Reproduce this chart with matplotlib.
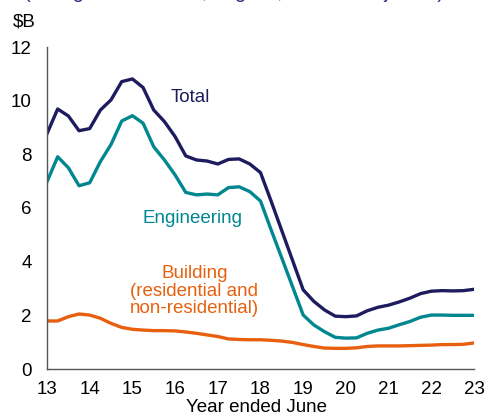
import matplotlib
matplotlib.use("Agg")
import matplotlib.pyplot as plt
import numpy as np

plt.rcParams['font.family'] = ['Liberation Sans', 'DejaVu Sans']

years = np.arange(41) * 0.25 + 13  # quarterly, year ended June 2013..2023

total = [8.77, 9.69, 9.43, 8.88, 8.96, 9.65, 10.03, 10.71, 10.81, 10.49,
         9.65, 9.22, 8.66, 7.94, 7.79, 7.75, 7.64, 7.81, 7.83, 7.64,
         7.32, 6.25, 5.15, 4.05, 2.95, 2.52, 2.2, 1.97, 1.95, 1.98,
         2.17, 2.3, 2.38, 2.5, 2.64, 2.81, 2.9, 2.92, 2.91, 2.92, 2.97]
engineering = [6.98, 7.91, 7.5, 6.83, 6.94, 7.73, 8.37, 9.24, 9.44, 9.16,
               8.28, 7.79, 7.23, 6.58, 6.49, 6.52, 6.49, 6.76, 6.79, 6.61,
               6.26, 5.18, 4.13, 3.07, 2.01, 1.64, 1.39, 1.18, 1.15, 1.16,
               1.33, 1.45, 1.52, 1.65, 1.77, 1.93, 2.01, 2.01, 2.0, 2.0, 2.0]
building = [1.79, 1.79, 1.95, 2.05, 2.01, 1.89, 1.70, 1.55, 1.48, 1.45,
            1.43, 1.43, 1.42, 1.38, 1.33, 1.27, 1.21, 1.12, 1.10, 1.09,
            1.09, 1.07, 1.04, 0.99, 0.91, 0.84, 0.78, 0.77, 0.77, 0.79,
            0.84, 0.86, 0.86, 0.86, 0.87, 0.88, 0.89, 0.91, 0.91, 0.92, 0.97]

xticks = list(range(13, 24))
yticks = [0, 2, 4, 6, 8, 10, 12]

c_total = '#1f1b5f'
c_eng = '#00878f'
c_bld = '#e8600f'

fig = plt.figure(figsize=(4.86, 4.16), dpi=100)
ax = fig.add_axes([47/486, 47/416, (474-47)/486, (369-47)/416])

ax.plot(years, total, color=c_total, lw=2.4, solid_joinstyle='round')
ax.plot(years, engineering, color=c_eng, lw=2.4, solid_joinstyle='round')
ax.plot(years, building, color=c_bld, lw=2.4, solid_joinstyle='round')

ax.set_xlim(13, 23)
ax.set_ylim(0, 12)
ax.set_xticks(xticks)
ax.set_xticklabels([str(t) for t in xticks])
ax.set_yticks(yticks)
ax.set_yticklabels([str(t) for t in yticks])
ax.tick_params(length=0, labelsize=13.5, colors='black')
ax.tick_params(axis='x', pad=9)
ax.tick_params(axis='y', pad=11)
for s in ['top', 'right']:
    ax.spines[s].set_visible(False)
for s in ['left', 'bottom']:
    ax.spines[s].set_color('#555555')
    ax.spines[s].set_linewidth(1.0)

ax.text(16.35, 10.1, 'Total', color=c_total, fontsize=13.5, ha='center', va='center')
ax.text(16.4, 5.6, 'Engineering', color=c_eng, fontsize=13.5, ha='center', va='center')
ax.text(16.45, 2.9, 'Building\n(residential and\nnon-residential)', color=c_bld,
        fontsize=13.5, ha='center', va='center', linespacing=1.05)

fig.text(13/486, 1 - 22/416, '$B', fontsize=13.5, ha='left', va='center')
fig.text(256/486, 1 - 408/416, 'Year ended June', fontsize=13.5, ha='center', va='center')
fig.text(234/486, 1 + 7/416, '(rolling annual totals, original, inflation adjusted)',
         fontsize=14.2, color='#2b2a7c', ha='center', va='center')

fig.savefig('out.png', dpi=100)
